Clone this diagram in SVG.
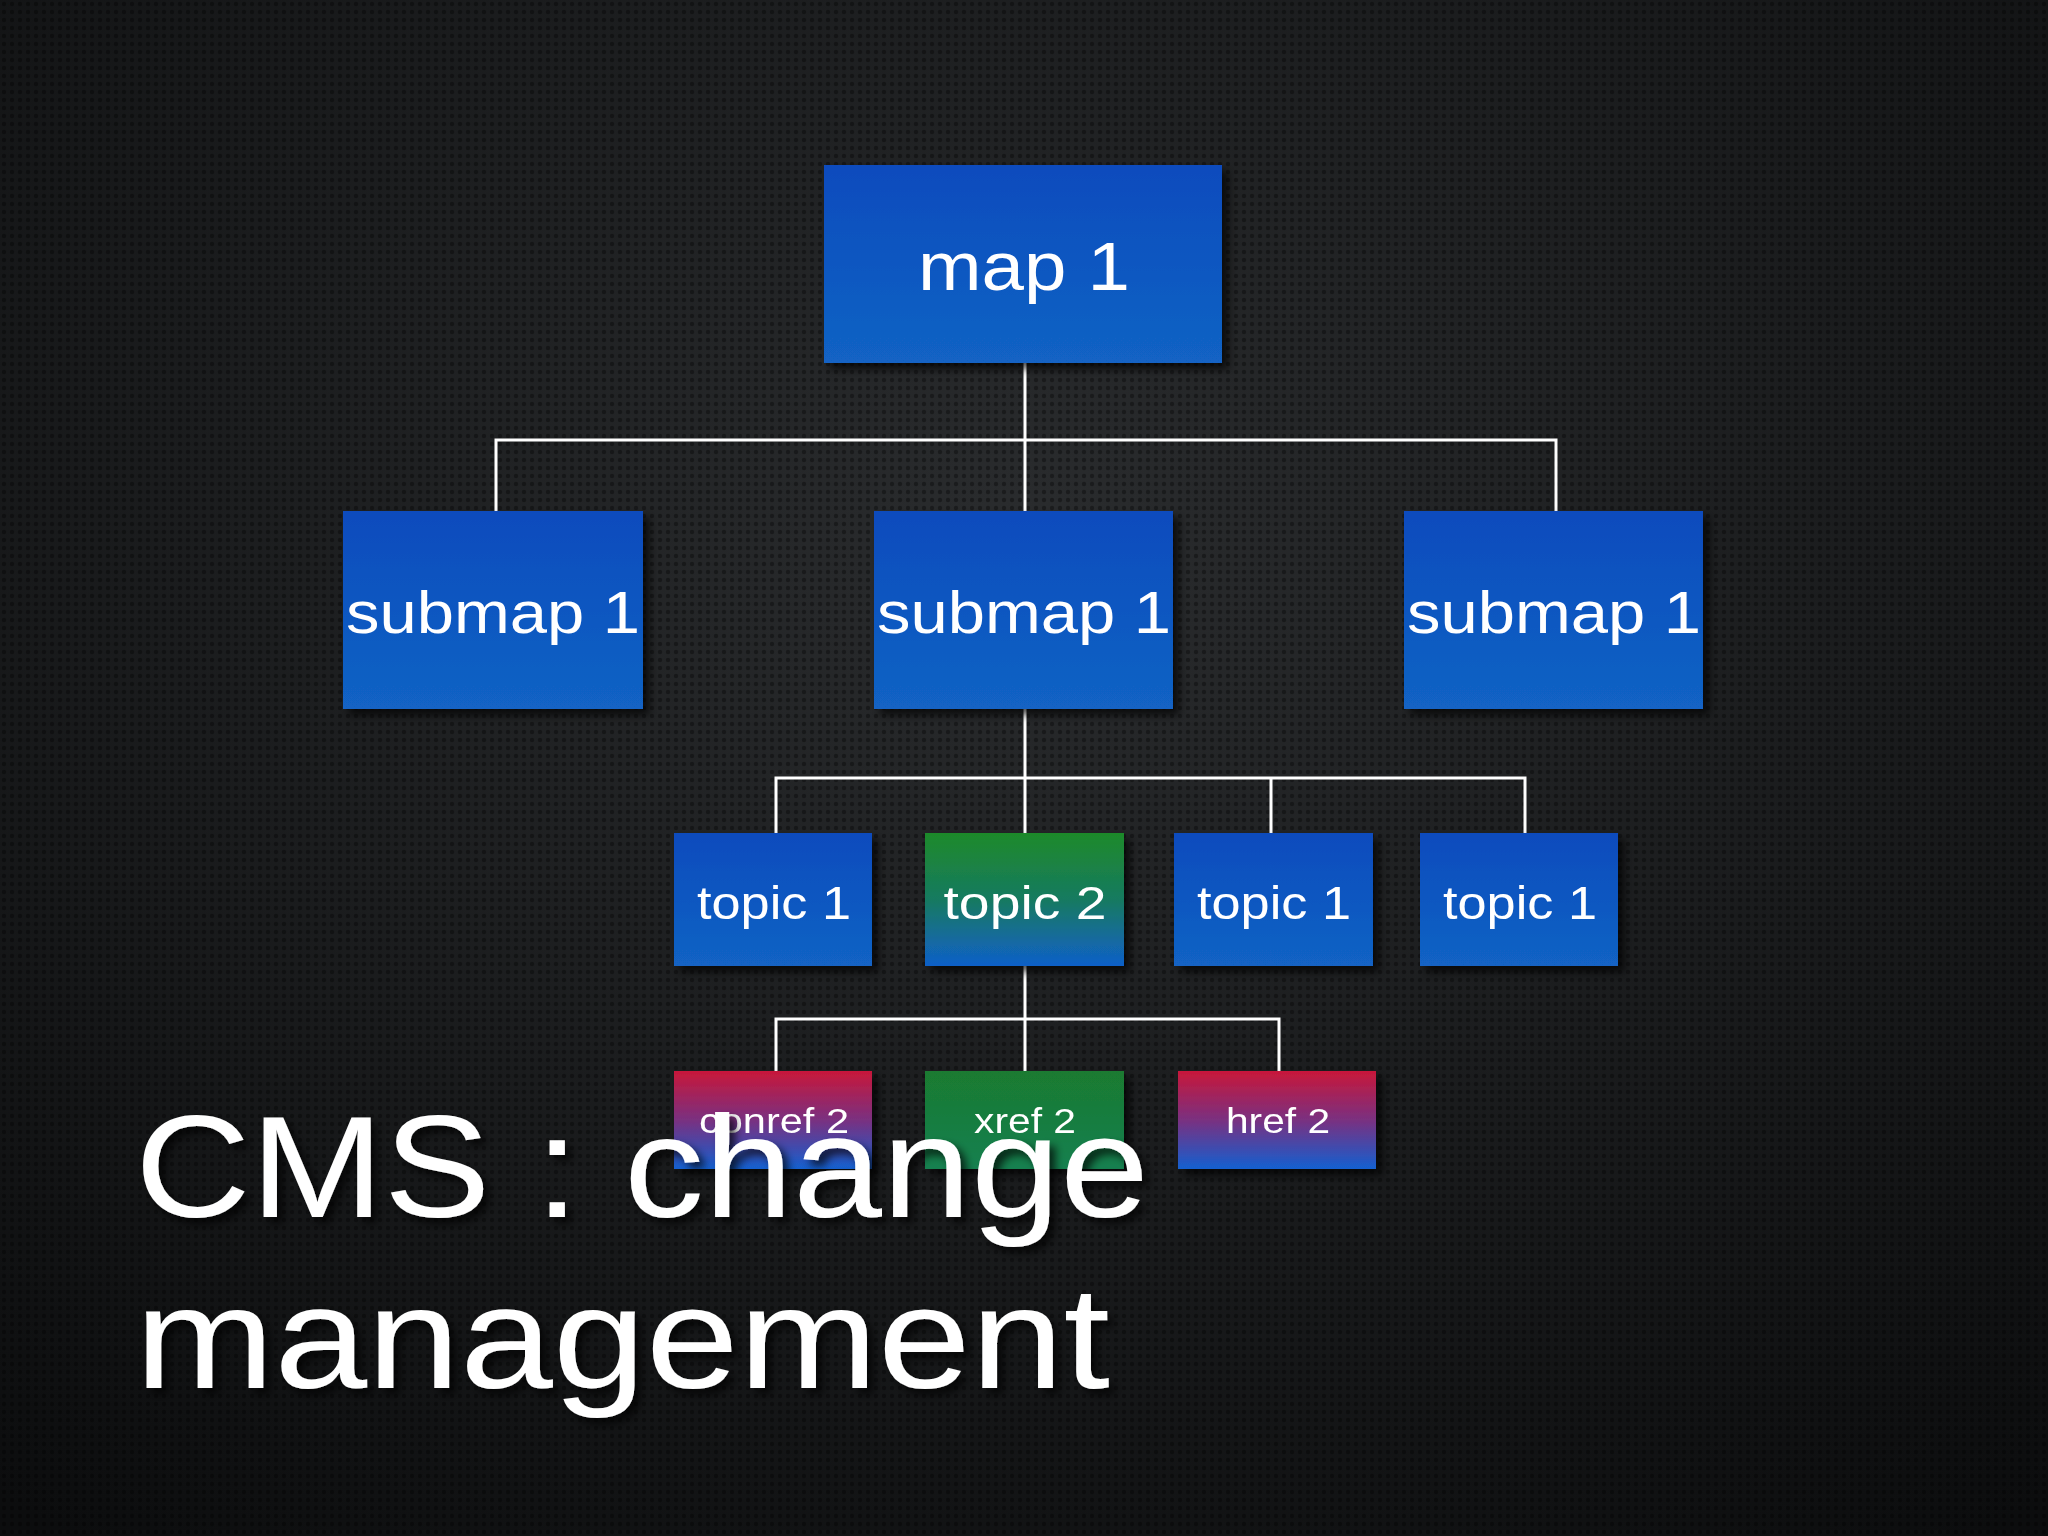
<svg xmlns="http://www.w3.org/2000/svg" width="2048" height="1536" viewBox="0 0 2048 1536">
<defs>
<radialGradient id="bg" cx="0.5" cy="0.35" r="0.8"><stop offset="0" stop-color="#2a2c2e"/><stop offset="1" stop-color="#0c0d0e"/></radialGradient>
<pattern id="dots" width="8" height="8" patternUnits="userSpaceOnUse"><circle cx="4" cy="4" r="2.2" fill="#000" opacity="0.35"/></pattern>
<linearGradient id="blue" x1="0" y1="0" x2="0" y2="1"><stop offset="0" stop-color="#0a4bbd"/><stop offset="1" stop-color="#1263c4"/></linearGradient>
<linearGradient id="green" x1="0" y1="0" x2="0" y2="1"><stop offset="0" stop-color="#1f8a2a"/><stop offset="0.5" stop-color="#167a60"/><stop offset="1" stop-color="#1060c8"/></linearGradient>
<linearGradient id="xref" x1="0" y1="0" x2="0" y2="1"><stop offset="0" stop-color="#1a7a30"/><stop offset="1" stop-color="#178050"/></linearGradient>
<linearGradient id="red" x1="0" y1="0" x2="0" y2="1"><stop offset="0" stop-color="#c8183a"/><stop offset="0.5" stop-color="#7a3080"/><stop offset="1" stop-color="#1460d0"/></linearGradient>
<filter id="sh" x="-10%" y="-10%" width="130%" height="130%"><feDropShadow dx="6" dy="6" stdDeviation="4" flood-color="#000" flood-opacity="0.7"/></filter>
</defs>
<style>
text{font-family:"Liberation Sans",Arial,sans-serif;fill:#fff;text-anchor:middle}
.c{stroke:#fff;stroke-width:3;fill:none}
.t{filter:url(#sh)}
</style>
<rect width="2048" height="1536" fill="url(#bg)"/>
<rect width="2048" height="1536" fill="url(#dots)"/>
<g id="connectors">
<path class="c" d="M1025 363V511M496 511V440H1556V511"/>
<path class="c" d="M1025 709V833M776 833V778H1525V833M1271 778V833"/>
<path class="c" d="M1025 966V1071M776 1071V1019H1279V1071"/>
</g>
<g id="map1" class="t"><rect x="824" y="165" width="398" height="198" fill="url(#blue)"/><text x="1024" y="290" font-size="68" textLength="212" lengthAdjust="spacingAndGlyphs">map 1</text></g>
<g id="submap1a" class="t"><rect x="343" y="511" width="300" height="198" fill="url(#blue)"/><text x="493" y="633" font-size="60" textLength="294" lengthAdjust="spacingAndGlyphs">submap 1</text></g>
<g id="submap1b" class="t"><rect x="874" y="511" width="299" height="198" fill="url(#blue)"/><text x="1024" y="633" font-size="60" textLength="294" lengthAdjust="spacingAndGlyphs">submap 1</text></g>
<g id="submap1c" class="t"><rect x="1404" y="511" width="299" height="198" fill="url(#blue)"/><text x="1554" y="633" font-size="60" textLength="294" lengthAdjust="spacingAndGlyphs">submap 1</text></g>
<g id="topic1a" class="t"><rect x="674" y="833" width="198" height="133" fill="url(#blue)"/><text x="774" y="919" font-size="47" textLength="154" lengthAdjust="spacingAndGlyphs">topic 1</text></g>
<g id="topic2" class="t"><rect x="925" y="833" width="199" height="133" fill="url(#green)"/><text x="1025" y="919" font-size="47" textLength="163" lengthAdjust="spacingAndGlyphs">topic 2</text></g>
<g id="topic1b" class="t"><rect x="1174" y="833" width="199" height="133" fill="url(#blue)"/><text x="1274" y="919" font-size="47" textLength="154" lengthAdjust="spacingAndGlyphs">topic 1</text></g>
<g id="topic1c" class="t"><rect x="1420" y="833" width="198" height="133" fill="url(#blue)"/><text x="1520" y="919" font-size="47" textLength="154" lengthAdjust="spacingAndGlyphs">topic 1</text></g>
<g id="conref2" class="t"><rect x="674" y="1071" width="198" height="98" fill="url(#red)"/><text x="774" y="1133" font-size="35" textLength="150" lengthAdjust="spacingAndGlyphs">conref 2</text></g>
<g id="xref2" class="t"><rect x="925" y="1071" width="199" height="98" fill="url(#xref)"/><text x="1025" y="1133" font-size="35" textLength="102" lengthAdjust="spacingAndGlyphs">xref 2</text></g>
<g id="href2" class="t"><rect x="1178" y="1071" width="198" height="98" fill="url(#red)"/><text x="1278" y="1133" font-size="35" textLength="104" lengthAdjust="spacingAndGlyphs">href 2</text></g>
<g id="title" class="t"><text x="135" y="1217" font-size="145" style="text-anchor:start" textLength="1014" lengthAdjust="spacingAndGlyphs">CMS : change</text><text x="135" y="1388" font-size="145" style="text-anchor:start" textLength="975" lengthAdjust="spacingAndGlyphs">management</text></g>
</svg>
